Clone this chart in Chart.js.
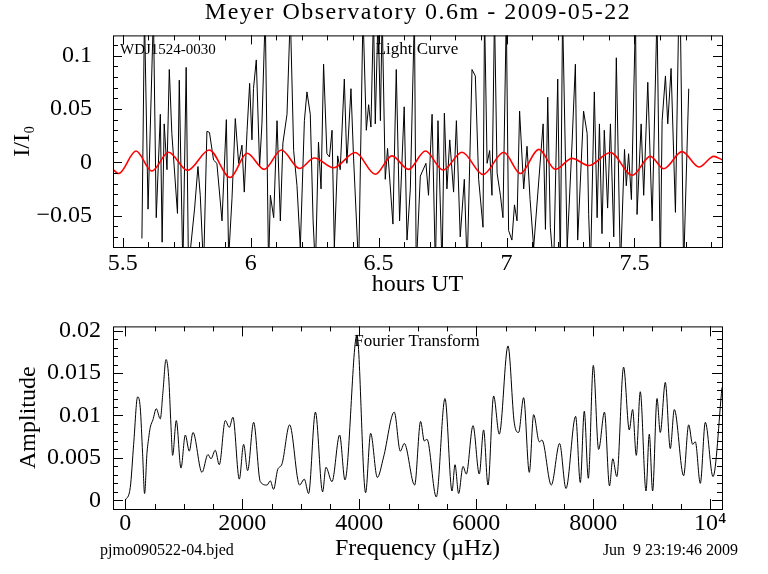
<!DOCTYPE html>
<html>
<head>
<meta charset="utf-8">
<script src="https://cdn.jsdelivr.net/npm/chart.js@4"></script>
<style>
  html, body { margin: 0; padding: 0; background: #fff; }
  #wrap { position: relative; width: 768px; height: 574px; }
  canvas { position: absolute; left: 0; }
  #lc { top: 0; }
  #ft { top: 300px; }
</style>
</head>
<body>
<div id="wrap">
  <canvas id="lc" width="768" height="300"></canvas>
  <canvas id="ft" width="768" height="274"></canvas>
</div>
<script>
// Light curve (hours UT, relative flux)
const lcTime = [
  5.575, 5.585, 5.599, 5.620, 5.631, 5.647, 5.654, 5.662, 5.673, 5.682,
  5.692, 5.714, 5.721, 5.735, 5.748, 5.757, 5.781, 5.794, 5.803, 5.816,
  5.829, 5.839, 5.855, 5.868, 5.888, 5.905, 5.914, 5.927, 5.940, 5.953,
  5.966, 5.975, 5.986, 5.996, 6.005, 6.011, 6.022, 6.035, 6.044, 6.057,
  6.070, 6.077, 6.090, 6.103, 6.116, 6.126, 6.142, 6.155, 6.168, 6.181,
  6.194, 6.210, 6.220, 6.233, 6.244, 6.253, 6.265, 6.275, 6.285, 6.298,
  6.308, 6.318, 6.327, 6.340, 6.350, 6.366, 6.376, 6.392, 6.402, 6.422,
  6.439, 6.452, 6.461, 6.470, 6.480, 6.487, 6.498, 6.507, 6.514, 6.526,
  6.535, 6.556, 6.569, 6.582, 6.600, 6.611, 6.624, 6.640, 6.647, 6.663,
  6.685, 6.695, 6.709, 6.722, 6.732, 6.748, 6.757, 6.767, 6.778, 6.793,
  6.804, 6.819, 6.835, 6.846, 6.865, 6.878, 6.891, 6.908, 6.914, 6.924,
  6.934, 6.943, 6.953, 6.963, 6.976, 6.986, 6.999, 7.008, 7.021, 7.031,
  7.041, 7.051, 7.067, 7.080, 7.092, 7.106, 7.143, 7.152, 7.161, 7.171,
  7.184, 7.200, 7.210, 7.219, 7.237, 7.256, 7.269, 7.278, 7.301, 7.315,
  7.321, 7.328, 7.343, 7.354, 7.363, 7.373, 7.382, 7.395, 7.406, 7.419,
  7.429, 7.445, 7.461, 7.468, 7.477, 7.488, 7.504, 7.510, 7.526, 7.536,
  7.552, 7.569, 7.588, 7.601, 7.608, 7.621, 7.630, 7.643, 7.660, 7.673,
  7.679, 7.692, 7.712
];
const lcFlux = [
  -0.0715, 0.14, -0.044, 0.14, -0.052, 0.045, -0.075, 0.036, -0.007, 0.087,
  0.027, -0.048, 0.077, -0.1, 0.089, -0.1, -0.043, -0.004, -0.031, -0.1,
  0.029, 0.028, 0.002, -0.001, -0.055, 0.040, -0.09, -0.034, 0.041, -0.001,
  0.016, -0.028, 0.03, 0.074, 0.021, 0.069, 0.096, -0.004, 0.036, 0.14,
  -0.1, -0.031, -0.052, 0.039, -0.055, 0.018, 0.045, 0.14, 0.011, -0.022,
  -0.08, 0.039, 0.066, 0.045, -0.055, -0.1, 0.019, -0.025, 0.092, 0.008,
  0.005, 0.03, -0.08, 0.006, -0.007, 0.078, -0.001, 0.069, 0.005, -0.1,
  0.14, 0.03, 0.054, 0.033, 0.14, 0.036, 0.14, 0.039, 0.14, -0.016,
  0.013, -0.058, 0.087, -0.055, 0.052, -0.073, -0.025, 0.14, -0.1, -0.013,
  -0.001, -0.031, 0.045, -0.1, 0.039, -0.1, 0.046, -0.025, 0.021, -0.028,
  0.039, -0.07, -0.016, -0.1, 0.087, 0.081, -0.016, -0.061, 0.14, -0.001,
  0.011, -0.031, 0.14, -0.01, -0.031, -0.052, 0.14, -0.064, -0.073, -0.04,
  -0.055, 0.048, -0.025, 0.015, -0.035, -0.08, 0.036, -0.063, 0.061, -0.061,
  -0.1, 0.078, -0.1, 0.14, -0.08, 0.018, 0.092, -0.073, 0.048, 0.027,
  -0.049, -0.1, 0.066, -0.052, 0.036, -0.067, 0.03, -0.043, 0.036, -0.07,
  0.098, -0.1, 0.012, -0.022, 0.008, -0.035, 0.14, -0.049, 0.036, -0.031,
  0.075, -0.055, 0.14, -0.1, 0.039, 0.081, 0.036, 0.088, -0.047, 0.14,
  0.14, -0.1, 0.069
];

// Multi-sine fit (red), read at its turning points
const fitTime = [
  5.462, 5.484, 5.552, 5.614, 5.679, 5.753, 5.838, 5.920, 5.986, 6.053,
  6.120, 6.191, 6.249, 6.324, 6.409, 6.487, 6.552, 6.617, 6.683, 6.752,
  6.826, 6.908, 6.989, 7.054, 7.126, 7.191, 7.256, 7.321, 7.406, 7.491,
  7.562, 7.614, 7.686, 7.752, 7.810, 7.842
];
const fitFlux = [
  -0.0067, -0.0106, 0.0105, -0.0082, 0.0094, -0.0076, 0.0115, -0.0143, 0.0085, -0.0067,
  0.0115, -0.0058, 0.004, -0.0052, 0.0091, -0.0113, 0.006, -0.0067, 0.0105, -0.0073,
  0.0094, -0.0115, 0.0094, -0.0106, 0.0121, -0.0067, 0.0036, -0.0031, 0.0091, -0.0122,
  0.0055, -0.0061, 0.01, -0.0045, 0.0055, 0.0024
];

// Amplitude spectrum (µHz, amplitude)
const ftFreq = [
  0, 85, 143, 211, 256, 296, 330, 370, 399, 427,
  473, 530, 598, 644, 696, 741, 781, 809, 872, 952,
  1026, 1094, 1157, 1311, 1413, 1465, 1538, 1607, 1709, 1778,
  1840, 1949, 2023, 2091, 2194, 2308, 2422, 2479, 2535, 2604,
  2679, 2809, 2980, 3060, 3133, 3250, 3373, 3430, 3533, 3664,
  3755, 3960, 4108, 4194, 4308, 4415, 4598, 4701, 4769, 4946,
  5048, 5111, 5157, 5316, 5465, 5585, 5636, 5698, 5773, 5829,
  5944, 6051, 6125, 6200, 6296, 6393, 6542, 6650, 6723, 6809,
  6906, 6980, 7077, 7123, 7282, 7424, 7533, 7698, 7778, 7846,
  7915, 8000, 8091, 8191, 8277, 8333, 8402, 8518, 8615, 8672,
  8735, 8803, 8901, 8957, 9014, 9089, 9145, 9231, 9316, 9385,
  9544, 9630, 9698, 9744, 9829, 9915, 10046, 10200
];
const ftAmp = [
  0, 0.0015, 0.0066, 0.0122, 0.0109, 0.0055, 0.0008, 0.0055, 0.0073, 0.0086,
  0.0095, 0.0108, 0.0096, 0.0128, 0.0166, 0.0146, 0.0088, 0.0053, 0.0094, 0.0038,
  0.0077, 0.0058, 0.008, 0.0033, 0.0054, 0.0049, 0.0059, 0.0042, 0.0094, 0.0086,
  0.0098, 0.0025, 0.0066, 0.0035, 0.0092, 0.0022, 0.0018, 0.0023, 0.0013, 0.0036,
  0.0043, 0.0089, 0.0018, 0.0025, 0.0008, 0.0104, 0.001, 0.0039, 0.0022, 0.0077,
  0.0024, 0.0195, 0.0009, 0.0079, 0.0027, 0.0051, 0.0104, 0.0058, 0.0067, 0.0018,
  0.0093, 0.007, 0.0072, 0.0004, 0.012, 0.0011, 0.0042, 0.0008, 0.004, 0.0031,
  0.0088, 0.0031, 0.0083, 0.0018, 0.0123, 0.0078, 0.0182, 0.0091, 0.008, 0.0121,
  0.0033, 0.0101, 0.0069, 0.0071, 0.0018, 0.0067, 0.0014, 0.0099, 0.0021, 0.0105,
  0.0026, 0.0159, 0.006, 0.0104, 0.0017, 0.0049, 0.0028, 0.0157, 0.0083, 0.0107,
  0.0053, 0.0128, 0.0011, 0.0078, 0.0011, 0.012, 0.008, 0.0139, 0.0061, 0.0107,
  0.0029, 0.0089, 0.0066, 0.0069, 0.002, 0.0092, 0.0028, 0.0133
];

// Tick labels
const timeTicks = [5.5, 6, 6.5, 7, 7.5];
const timeLabels = ['5.5', '6', '6.5', '7', '7.5'];
const fluxTicks = [-0.05, 0, 0.05, 0.1];
const fluxLabels = ['\u22120.05', '0', '0.05', '0.1'];
const freqTicks = [0, 2000, 4000, 6000, 8000, 10000];
const freqLabels = ['0', '2000', '4000', '6000', '8000', '10\u2074'];
const ampTicks = [0, 0.005, 0.01, 0.015, 0.02];
const ampLabels = ['0', '0.005', '0.01', '0.015', '0.02'];

const SERIF = "'Liberation Serif', 'DejaVu Serif', serif";
Chart.defaults.font.family = SERIF;
Chart.defaults.font.size = 24;
Chart.defaults.color = '#000';

// Box with inward major/minor ticks on all four sides (PGPLOT style)
const framePlugin = {
  id: 'frame',
  afterDatasetsDraw(chart, args, o) {
    const { ctx, chartArea: a, scales: { x, y } } = chart;
    ctx.save();
    ctx.strokeStyle = '#000';
    ctx.lineWidth = 1;
    ctx.strokeRect(a.left + 0.5, a.top + 0.5, a.right - a.left, a.bottom - a.top);
    ctx.beginPath();
    const each = (scale, step, fn) => {
      const first = Math.ceil(scale.min / step - 1e-9);
      for (let i = first; i * step <= scale.max + 1e-9; i++) fn(Math.round(scale.getPixelForValue(i * step)) + 0.5);
    };
    [[o.xMinor, o.minorLen], [o.xMajor, o.majorLen]].forEach(([step, len]) => each(x, step, px => {
      ctx.moveTo(px, a.bottom); ctx.lineTo(px, a.bottom - len);
      ctx.moveTo(px, a.top); ctx.lineTo(px, a.top + len);
    }));
    [[o.yMinor, o.minorLen], [o.yMajor, o.majorLen]].forEach(([step, len]) => each(y, step, py => {
      ctx.moveTo(a.left, py); ctx.lineTo(a.left + len, py);
      ctx.moveTo(a.right, py); ctx.lineTo(a.right - len, py);
    }));
    ctx.stroke();
    ctx.restore();
  }
};

// Free text: title, panel captions, footer
const notesPlugin = {
  id: 'notes',
  afterDraw(chart, args, o) {
    const { ctx } = chart;
    ctx.save();
    ctx.fillStyle = '#000';
    ctx.textBaseline = 'middle';
    (o.items || []).forEach(n => {
      ctx.font = `${n.size}px ${SERIF}`;
      ctx.textAlign = n.align || 'left';
      ctx.letterSpacing = n.spacing || '0px';
      ctx.fillText(n.text, n.x, n.y);
    });
    ctx.restore();
  }
};

const baseLine = { pointRadius: 0, borderWidth: 1, borderColor: '#000', fill: false };

new Chart(document.getElementById('lc'), {
  type: 'line',
  plugins: [framePlugin, notesPlugin],
  data: {
    datasets: [
      {
        ...baseLine,
        data: fitTime.map((t, i) => ({ x: t, y: fitFlux[i] })),
        borderColor: '#ff0000',
        borderWidth: 1.6,
        cubicInterpolationMode: 'monotone'
      },
      {
        ...baseLine,
        data: lcTime.map((t, i) => ({ x: t, y: lcFlux[i] })),
        tension: 0
      }
    ]
  },
  options: {
    responsive: false,
    animation: false,
    layout: { padding: { left: 0, right: 46, top: 28, bottom: 0 } },
    scales: {
      x: {
        type: 'linear',
        min: 5.462,
        max: 7.842,
        afterBuildTicks: s => { s.ticks = timeTicks.map(v => ({ value: v })); },
        afterFit: s => { s.height = 53; },
        grid: { display: false, drawTicks: false },
        border: { display: false },
        ticks: { padding: 2, autoSkip: false, maxRotation: 0, callback: (v, i) => timeLabels[i] },
        title: { display: true, text: 'hours UT', padding: { top: 0, bottom: 1 } }
      },
      y: {
        type: 'linear',
        min: -0.0795,
        max: 0.119,
        afterBuildTicks: s => { s.ticks = fluxTicks.map(v => ({ value: v })); },
        afterFit: s => { s.width = 113; },
        grid: { display: false, drawTicks: false },
        border: { display: false },
        ticks: { padding: 21, autoSkip: false, callback: (v, i) => fluxLabels[i] },
        title: { display: true, text: 'I/I\u2080', padding: { top: 8, bottom: 0 } }
      }
    },
    plugins: {
      legend: { display: false },
      tooltip: { enabled: false },
      frame: { xMajor: 0.5, xMinor: 0.1, yMajor: 0.05, yMinor: 0.01, majorLen: 9, minorLen: 5 },
      notes: {
        items: [
          { text: 'Meyer Observatory 0.6m - 2009-05-22', x: 418, y: 13, size: 24, align: 'center', spacing: '1.5px' },
          { text: 'WDJ1524-0030', x: 120, y: 50, size: 15 },
          { text: 'Light Curve', x: 417, y: 50, size: 17, align: 'center' }
        ]
      }
    }
  }
});

new Chart(document.getElementById('ft'), {
  type: 'line',
  plugins: [framePlugin, notesPlugin],
  data: {
    datasets: [{
      ...baseLine,
      data: ftFreq.map((f, i) => ({ x: f, y: ftAmp[i] })),
      cubicInterpolationMode: 'monotone'
    }]
  },
  options: {
    responsive: false,
    animation: false,
    layout: { padding: { left: 0, right: 46, top: 13, bottom: 0 } },
    scales: {
      x: {
        type: 'linear',
        min: -210,
        max: 10200,
        afterBuildTicks: s => { s.ticks = freqTicks.map(v => ({ value: v })); },
        afterFit: s => { s.height = 65; },
        grid: { display: false, drawTicks: false },
        border: { display: false },
        ticks: { padding: 0, autoSkip: false, maxRotation: 0, callback: (v, i) => freqLabels[i] },
        title: { display: true, text: 'Frequency (\u00b5Hz)', padding: { top: 0, bottom: 11 } }
      },
      y: {
        type: 'linear',
        min: -0.00102,
        max: 0.0205,
        afterBuildTicks: s => { s.ticks = ampTicks.map(v => ({ value: v })); },
        afterFit: s => { s.width = 113; },
        grid: { display: false, drawTicks: false },
        border: { display: false },
        ticks: { padding: 12, autoSkip: false, callback: (v, i) => ampLabels[i] },
        title: { display: true, text: 'Amplitude', padding: { top: 14, bottom: 0 } }
      }
    },
    plugins: {
      legend: { display: false },
      tooltip: { enabled: false },
      frame: { xMajor: 2000, xMinor: 500, yMajor: 0.005, yMinor: 0.001, majorLen: 10, minorLen: 5 },
      notes: {
        items: [
          { text: 'Fourier Transform', x: 417, y: 42, size: 17, align: 'center' },
          { text: 'pjmo090522-04.bjed', x: 100, y: 251, size: 16 },
          { text: 'Jun  9 23:19:46 2009', x: 738, y: 251, size: 16, align: 'right' }
        ]
      }
    }
  }
});
</script>
</body>
</html>
